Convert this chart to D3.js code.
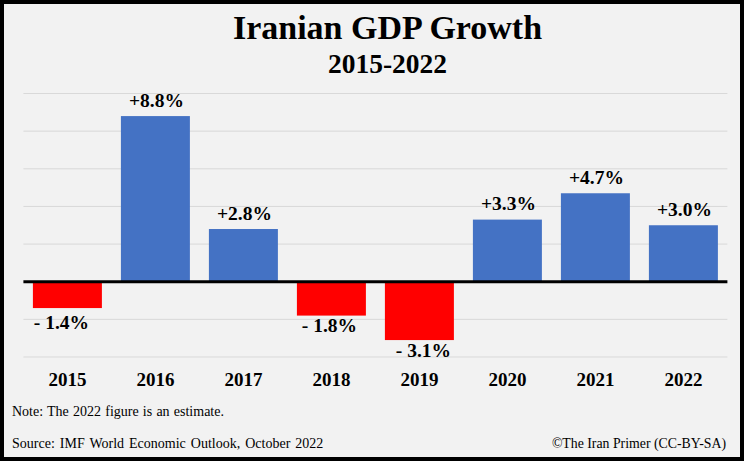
<!DOCTYPE html>
<html>
<head>
<meta charset="utf-8">
<script src="https://cdn.jsdelivr.net/npm/d3@7"></script>
<style>
  html, body { margin: 0; padding: 0; background: #f2f2f2; }
  svg { display: block; }
  text { font-family: "Liberation Serif", serif; fill: #000; }
</style>
</head>
<body>
<div id="chart"></div>
<script>
// Chart data
const years = ['2015', '2016', '2017', '2018', '2019', '2020', '2021', '2022'];
const growth = [-1.4, 8.8, 2.8, -1.8, -3.1, 3.3, 4.7, 3.0];
const gridTicks = [-4, -2, 2, 4, 6, 8, 10];

const width = 744;
const height = 461;

const svg = d3.select('#chart')
  .append('svg')
  .attr('width', width)
  .attr('height', height);

const x = d3.scaleBand()
  .domain(years)
  .range([23.4, 727.4])
  .paddingInner(0.216)
  .paddingOuter(0.108);

const y = d3.scaleLinear()
  .domain([-4, 10])
  .range([357, 93.5]);

const formatLabel = v => (v < 0 ? '- ' + Math.abs(v).toFixed(1) : '+' + v.toFixed(1)) + '%';

// the negative labels were placed by hand in the original
function labelDx(d) {
  if (d === -1.4) return -6;
  if (d === -1.8) return -2;
  if (d === -3.1) return 4;
  return 1;
}

function labelY(d) {
  if (d === -1.4) return y(d) + 20.5;
  if (d === -1.8) return y(d) + 16;
  if (d === -3.1) return y(d) + 17;
  return y(d) - 9.5;
}

// Background
svg.append('rect')
  .attr('width', width)
  .attr('height', height)
  .attr('fill', '#f2f2f2');

// Gridlines
svg.append('g')
  .selectAll('line')
  .data(gridTicks)
  .join('line')
  .attr('x1', x.range()[0])
  .attr('x2', x.range()[1])
  .attr('y1', d => y(d))
  .attr('y2', d => y(d))
  .attr('stroke', '#d9d9d9')
  .attr('stroke-width', 1);

// Bars
svg.append('g')
  .selectAll('rect')
  .data(growth)
  .join('rect')
  .attr('x', (d, i) => x(years[i]))
  .attr('width', x.bandwidth())
  .attr('y', d => y(Math.max(d, 0)))
  .attr('height', d => Math.abs(y(d) - y(0)))
  .attr('fill', d => d < 0 ? '#ff0000' : '#4472c4');

// Zero line
svg.append('line')
  .attr('x1', x.range()[0])
  .attr('x2', x.range()[1])
  .attr('y1', y(0))
  .attr('y2', y(0))
  .attr('stroke', '#000')
  .attr('stroke-width', 3);

// Value labels
svg.append('g')
  .selectAll('text')
  .data(growth)
  .join('text')
  .attr('x', (d, i) => x(years[i]) + x.bandwidth() / 2 + labelDx(d))
  .attr('y', labelY)
  .attr('text-anchor', 'middle')
  .attr('font-size', 19.5)
  .attr('font-weight', 'bold')
  .text(formatLabel);

// Year labels
svg.append('g')
  .selectAll('text')
  .data(years)
  .join('text')
  .attr('x', d => x(d) + x.bandwidth() / 2)
  .attr('y', 386)
  .attr('text-anchor', 'middle')
  .attr('font-size', 19)
  .attr('font-weight', 'bold')
  .text(d => d);

// Titles
svg.append('text')
  .attr('x', 387.5)
  .attr('y', 39)
  .attr('text-anchor', 'middle')
  .attr('font-size', 34)
  .attr('font-weight', 'bold')
  .text('Iranian GDP Growth');

svg.append('text')
  .attr('x', 387.5)
  .attr('y', 73)
  .attr('text-anchor', 'middle')
  .attr('font-size', 27.5)
  .attr('font-weight', 'bold')
  .text('2015-2022');

// Footnotes
svg.append('text')
  .attr('x', 12)
  .attr('y', 416)
  .attr('font-size', 14)
  .attr('word-spacing', 0.7)
  .text('Note: The 2022 figure is an estimate.');

svg.append('text')
  .attr('x', 12)
  .attr('y', 448)
  .attr('font-size', 14)
  .attr('word-spacing', 1.5)
  .text('Source: IMF World Economic Outlook, October 2022');

svg.append('text')
  .attr('x', 726)
  .attr('y', 448)
  .attr('text-anchor', 'end')
  .attr('font-size', 13.8)
  .text('©The Iran Primer (CC-BY-SA)');

// Outer border
svg.append('rect')
  .attr('x', 2)
  .attr('y', 2)
  .attr('width', width - 4)
  .attr('height', height - 4)
  .attr('fill', 'none')
  .attr('stroke', '#000')
  .attr('stroke-width', 4);
</script>
</body>
</html>
